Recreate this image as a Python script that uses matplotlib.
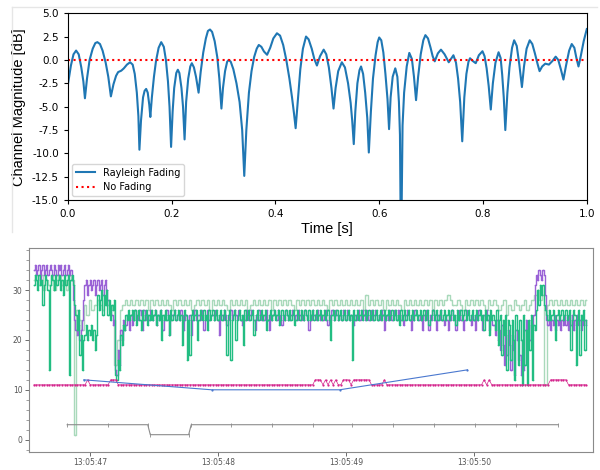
import matplotlib
matplotlib.use('Agg')
import numpy as np
import matplotlib.pyplot as plt
from matplotlib.ticker import MultipleLocator, FormatStrFormatter
from matplotlib.lines import Line2D

# ---- top panel: channel magnitude ----
fade_t = [0.000, 0.006, 0.011, 0.016, 0.021, 0.026, 0.030, 0.033, 0.037, 0.042,
          0.048, 0.053, 0.057, 0.062, 0.067, 0.073, 0.078, 0.083, 0.088, 0.093,
          0.097, 0.103, 0.108, 0.114, 0.120, 0.125, 0.129, 0.133, 0.136, 0.138,
          0.141, 0.145, 0.148, 0.151, 0.154, 0.157, 0.159, 0.162, 0.166, 0.170,
          0.175, 0.180, 0.185, 0.189, 0.193, 0.196, 0.199, 0.202, 0.205, 0.209,
          0.212, 0.215, 0.219, 0.222, 0.225, 0.228, 0.232, 0.236, 0.239, 0.243,
          0.247, 0.252, 0.256, 0.261, 0.266, 0.270, 0.274, 0.278, 0.283, 0.288,
          0.292, 0.296, 0.299, 0.303, 0.307, 0.310, 0.314, 0.319, 0.325, 0.331,
          0.336, 0.340, 0.344, 0.349, 0.354, 0.359, 0.364, 0.368, 0.373, 0.378,
          0.384, 0.390, 0.396, 0.403, 0.409, 0.415, 0.421, 0.427, 0.432, 0.436,
          0.439, 0.443, 0.448, 0.453, 0.459, 0.464, 0.470, 0.475, 0.480, 0.486,
          0.493, 0.498, 0.503, 0.508, 0.512, 0.516, 0.521, 0.528, 0.534, 0.540,
          0.545, 0.548, 0.551, 0.554, 0.558, 0.562, 0.565, 0.569, 0.573, 0.577,
          0.580, 0.584, 0.588, 0.593, 0.597, 0.600, 0.604, 0.608, 0.612, 0.616,
          0.619, 0.622, 0.626, 0.631, 0.635, 0.638, 0.640, 0.642, 0.645, 0.648,
          0.653, 0.658, 0.663, 0.667, 0.671, 0.675, 0.680, 0.685, 0.689, 0.694,
          0.699, 0.703, 0.707, 0.713, 0.719, 0.726, 0.734, 0.743, 0.748, 0.752,
          0.756, 0.760, 0.764, 0.768, 0.772, 0.775, 0.780, 0.786, 0.792, 0.799,
          0.803, 0.807, 0.811, 0.815, 0.819, 0.824, 0.830, 0.834, 0.837, 0.840,
          0.843, 0.847, 0.851, 0.856, 0.860, 0.865, 0.870, 0.875, 0.879, 0.884,
          0.890, 0.895, 0.900, 0.905, 0.909, 0.914, 0.920, 0.927, 0.934, 0.940,
          0.945, 0.950, 0.955, 0.960, 0.966, 0.971, 0.976, 0.980, 0.984, 0.988,
          0.994, 1.000]
fade_db = [-2.7, -0.6, 0.6, 1.0, 0.6, -0.8, -2.3, -4.1, -2.0, 0.0,
           1.2, 1.8, 1.9, 1.7, 1.0, -0.3, -1.8, -3.9, -2.6, -1.7,
           -1.3, -1.15, -0.9, -0.5, -0.25, -0.5, -1.5, -3.5, -6.0, -9.6,
           -6.5, -4.0, -3.3, -3.1, -3.5, -4.8, -6.1, -4.0, -1.8, -0.1,
           1.3, 1.9, 1.4, 0.0, -2.3, -5.0, -9.3, -5.5, -3.0, -1.4,
           -1.05, -1.4, -3.0, -5.0, -8.5, -4.5, -2.0, -0.7, -0.35, -0.8,
           -1.8, -3.5, -1.3, 0.8, 2.3, 3.1, 3.25, 3.0, 2.0, 0.3,
           -2.0, -5.2, -3.0, -1.2, -0.2, 0.0, -0.2, -1.0, -2.5, -4.5,
           -7.5, -12.4, -7.5, -3.5, -1.2, 0.3, 1.2, 1.6, 1.4, 0.9,
           0.55, 1.3, 2.3, 2.85, 2.6, 1.6, 0.0, -2.0, -4.0, -5.8,
           -7.3, -4.5, -1.0, 1.2, 2.5, 2.2, 1.2, 0.1, -0.6, 0.4,
           1.1, 0.6, -0.8, -3.0, -5.2, -3.0, -1.2, -0.25, -0.8, -2.5,
           -4.6, -6.5, -9.0, -5.5, -2.5, -1.1, -0.7, -1.5, -3.5, -6.2,
           -9.9, -5.5, -2.0, 0.5, 1.9, 2.4, 2.1, 0.8, -1.5, -4.2,
           -7.4, -4.0, -1.8, -0.9, -1.8, -4.5, -8.0, -22.0, -7.0, -3.5,
           -0.7, 0.75, 0.1, -1.8, -4.3, -1.8, 0.6, 2.1, 2.65, 2.3,
           1.3, 0.4, -0.15, 0.7, 1.1, 0.6, -0.25, 0.5, -0.3, -2.0,
           -4.5, -8.7, -4.0, -1.5, -0.2, 0.18, -0.1, -0.35, 0.5, 0.93,
           0.4, -0.9, -2.8, -5.3, -2.5, -0.3, 0.82, 0.2, -1.6, -4.0,
           -7.5, -3.5, -0.8, 1.3, 2.1, 1.5, -0.5, -2.9, -0.7, 1.2,
           2.1, 1.7, 0.7, -0.4, -1.2, -0.7, -0.4, -0.5, -0.1, 0.35,
           0.0, -1.0, -2.1, -0.6, 1.0, 1.7, 1.3, 0.2, -0.7, 0.3,
           2.0, 3.3]
nofade_t = [0.0, 1.0]
nofade_db = [0.0, 0.0]

# ---- bottom panel ----
# green / purple: one sample every 0.01 s from 13:05:46.56 (rows of 0.2 s)
fast_start = 46.56
fast_step = 0.01
green = [
    31, 33, 32, 30, 33, 31, 32, 27, 31, 33, 32, 30, 14, 31, 33, 32, 30, 33, 31, 32,
    33, 30, 32, 29, 33, 31, 32, 33, 13, 32, 33, 31, 27, 25, 22, 26, 17, 21, 14, 20,
    21, 23, 20, 22, 21, 23, 20, 22, 18, 21, 29, 26, 28, 30, 25, 29, 27, 30, 25, 28,
    24, 27, 26, 28, 13, 12, 16, 14, 21, 19, 23, 22, 25, 24, 26, 24, 25, 26, 24, 26,
    23, 25, 26, 24, 22, 26, 24, 25, 26, 23, 25, 24, 26, 24, 25, 26, 23, 25, 24, 26,
    20, 25, 24, 26, 24, 25, 21, 26, 24, 25, 26, 24, 25, 26, 24, 25, 19, 24, 26, 25,
    16, 24, 17, 25, 26, 24, 25, 26, 20, 24, 26, 25, 24, 26, 24, 25, 22, 26, 24, 25,
    26, 24, 25, 26, 24, 25, 26, 24, 25, 26, 24, 17, 25, 26, 16, 24, 25, 26, 20, 24,
    25, 26, 24, 25, 19, 26, 24, 25, 26, 24, 25, 26, 21, 24, 25, 26, 24, 25, 26, 24,
    25, 26, 22, 24, 25, 26, 24, 25, 26, 24, 25, 26, 23, 24, 26, 25, 24, 26, 25, 24,
    26, 24, 25, 26, 23, 24, 26, 25, 24, 26, 25, 24, 26, 25, 24, 26, 24, 25, 26, 24,
    25, 26, 24, 25, 26, 24, 25, 26, 24, 25, 26, 24, 20, 25, 26, 24, 25, 26, 24, 25,
    26, 24, 25, 26, 24, 25, 26, 24, 25, 16, 26, 24, 25, 26, 24, 25, 26, 24, 25, 26,
    24, 25, 26, 24, 25, 26, 24, 25, 26, 24, 25, 26, 24, 25, 26, 24, 25, 26, 24, 25,
    26, 24, 25, 26, 24, 25, 23, 26, 24, 25, 26, 24, 25, 26, 24, 25, 26, 24, 25, 26,
    24, 25, 26, 24, 25, 26, 24, 25, 26, 23, 24, 25, 26, 24, 25, 26, 24, 25, 26, 24,
    25, 26, 24, 25, 26, 24, 25, 26, 24, 25, 23, 26, 24, 25, 26, 24, 25, 26, 24, 25,
    26, 24, 25, 26, 24, 25, 26, 24, 25, 26, 24, 25, 22, 26, 24, 25, 21, 26, 24, 25,
    24, 22, 26, 19, 24, 25, 17, 24, 21, 25, 14, 24, 23, 16, 24, 20, 12, 25, 22, 15,
    24, 20, 11, 25, 15, 22, 11, 24, 18, 25, 12, 23, 22, 26, 30, 27, 31, 29, 31, 27,
    26, 25, 24, 26, 24, 25, 26, 24, 20, 25, 26, 24, 25, 26, 24, 25, 26, 24, 25, 26,
    18, 24, 26, 25, 15, 24, 26, 17, 25, 24, 26, 18, 24]
purple = [
    34, 35, 33, 34, 35, 32, 34, 35, 33, 34, 35, 33, 34, 35, 34, 33, 35, 34, 33, 35,
    34, 35, 33, 34, 35, 33, 34, 35, 33, 34, 32, 28, 24, 22, 21, 23, 20, 22, 24, 28,
    31, 32, 29, 31, 32, 30, 31, 32, 29, 31, 32, 30, 31, 32, 29, 31, 32, 30, 28, 27,
    26, 25, 23, 24, 14, 13, 18, 15, 22, 20, 24, 22, 23, 25, 24, 22, 25, 23, 24, 26,
    24, 25, 24, 26, 25, 22, 26, 24, 25, 25, 24, 26, 25, 24, 25, 26, 23, 25, 24, 26,
    24, 22, 25, 24, 26, 25, 21, 24, 25, 25, 26, 24, 25, 25, 24, 26, 25, 22, 24, 25,
    24, 24, 25, 21, 24, 25, 26, 24, 25, 25, 24, 26, 25, 22, 24, 25, 26, 24, 25, 25,
    25, 24, 26, 25, 24, 21, 25, 25, 24, 26, 25, 23, 24, 25, 26, 24, 25, 26, 25, 24,
    26, 25, 24, 23, 25, 24, 26, 25, 24, 25, 26, 25, 24, 22, 25, 24, 26, 25, 24, 25,
    24, 25, 26, 24, 22, 25, 24, 25, 26, 25, 24, 26, 25, 24, 23, 25, 24, 26, 25, 24,
    24, 25, 26, 25, 24, 25, 24, 26, 25, 24, 25, 24, 26, 25, 24, 22, 25, 24, 26, 25,
    25, 24, 26, 25, 24, 25, 24, 25, 26, 24, 23, 25, 24, 26, 25, 24, 26, 25, 24, 25,
    25, 24, 26, 25, 24, 26, 25, 24, 25, 24, 23, 25, 24, 25, 26, 24, 25, 26, 25, 24,
    26, 25, 24, 25, 26, 24, 25, 26, 25, 24, 25, 24, 26, 25, 22, 24, 25, 24, 26, 25,
    24, 25, 26, 25, 24, 26, 25, 24, 25, 23, 24, 25, 26, 25, 24, 22, 25, 24, 26, 25,
    25, 24, 25, 24, 22, 25, 24, 26, 24, 22, 25, 24, 26, 25, 24, 22, 25, 24, 26, 24,
    24, 23, 25, 24, 22, 25, 24, 26, 25, 24, 22, 25, 24, 26, 24, 25, 22, 24, 26, 25,
    25, 24, 23, 25, 24, 22, 25, 24, 26, 25, 24, 22, 25, 24, 26, 24, 22, 25, 24, 23,
    23, 21, 24, 20, 22, 18, 23, 19, 15, 21, 17, 22, 19, 14, 21, 18, 13, 22, 20, 16,
    17, 13, 20, 14, 22, 24, 19, 23, 20, 24, 22, 25, 31, 33, 32, 34, 33, 32, 34, 33,
    29, 24, 23, 25, 22, 24, 23, 25, 22, 24, 23, 25, 22, 24, 23, 25, 23, 24, 22, 25,
    23, 25, 22, 24, 23, 25, 23, 24, 22, 25, 23, 24, 23]

# pale green and magenta: one sample every 0.02 s from 13:05:46.56
slow_start = 46.56
slow_step = 0.02
pale = [32, 33, 31, 33, 30, 32, 31, 33, 30, 32,
        33, 31, 32, 30, 33, 32, 1, 26, 24, 22,
        27, 25, 28, 26, 27, 28, 27, 26, 28, 27,
        26, 27, 15, 20, 26, 27, 28, 27, 28, 27,
        28, 27, 28, 27, 28, 26, 28, 27, 28, 27,
        28, 27, 28, 27, 26, 28, 27, 28, 27, 28,
        27, 28, 26, 27, 28, 27, 28, 27, 28, 26,
        28, 27, 28, 27, 28, 27, 26, 28, 27, 28,
        27, 28, 27, 28, 26, 27, 28, 27, 28, 27,
        28, 27, 28, 26, 28, 27, 28, 27, 28, 27,
        28, 27, 26, 28, 27, 28, 27, 28, 27, 28,
        27, 28, 27, 28, 27, 26, 28, 27, 28, 27,
        28, 27, 28, 27, 28, 27, 28, 27, 28, 26,
        29, 27, 28, 27, 28, 27, 28, 26, 28, 27,
        28, 27, 28, 27, 26, 28, 27, 28, 27, 28,
        27, 28, 27, 28, 27, 28, 26, 28, 27, 28,
        27, 28, 29, 28, 27, 27, 28, 27, 26, 28,
        27, 28, 27, 28, 27, 28, 27, 26, 28, 27,
        28, 27, 26, 27, 28, 25, 27, 26, 28, 27,
        26, 27, 28, 26, 27, 28, 29, 30, 28, 29,
        11, 27, 28, 27, 28, 27, 28, 27, 28, 27,
        28, 27, 28, 27, 28, 27, 28]
magenta = [11, 11, 11, 11, 11, 11, 11, 11, 11, 11,
           11, 11, 11, 11, 11, 11, 11, 11, 11, 11,
           11, 12, 11, 11, 11, 11, 11, 11, 11, 11,
           12, 12, 12, 11, 11, 11, 11, 11, 11, 11,
           11, 11, 11, 11, 11, 11, 11, 11, 11, 11,
           11, 11, 11, 11, 11, 11, 11, 11, 11, 11,
           11, 11, 11, 11, 11, 11, 11, 11, 11, 11,
           11, 11, 11, 11, 11, 11, 11, 11, 11, 11,
           11, 11, 11, 11, 11, 11, 11, 11, 11, 11,
           11, 11, 11, 11, 11, 11, 11, 11, 11, 11,
           11, 11, 11, 11, 11, 11, 11, 11, 11, 11,
           12, 12, 12, 11, 12, 11, 12, 11, 12, 11,
           11, 12, 12, 12, 11, 12, 12, 12, 12, 12,
           12, 12, 11, 11, 11, 11, 11, 12, 11, 11,
           11, 11, 11, 11, 11, 11, 11, 11, 11, 11,
           11, 11, 11, 11, 11, 11, 11, 11, 11, 11,
           11, 11, 11, 11, 11, 11, 11, 11, 11, 11,
           11, 11, 11, 11, 11, 11, 12, 11, 12, 11,
           11, 11, 11, 11, 11, 11, 11, 11, 11, 11,
           11, 11, 11, 11, 11, 11, 11, 11, 11, 11,
           11, 11, 12, 12, 12, 12, 12, 12, 12, 11,
           11, 11, 11, 11, 11, 11, 11]

blue_t = [46.95, 47.95, 48.95, 49.95]
blue_v = [12, 10, 10, 14]

grey_t = [46.82, 47.14, 47.45, 47.47, 47.77, 47.79, 48.10, 48.42,
          48.74, 49.05, 49.37, 49.69, 50.01, 50.33, 50.66]
grey_v = [3, 3, 3, 1, 1, 3, 3, 3, 3, 3, 3, 3, 3, 3, 3]

sec_ticks = [47, 48, 49, 50]
sec_labels = ['13:05:47', '13:05:48', '13:05:49', '13:05:50']


def times(vals, start, step):
    return start + step * np.arange(len(vals))


fig = plt.figure(figsize=(6, 4.7), dpi=100)

# faint screenshot frame around the top figure
fig.add_artist(Line2D([12 / 600, 597 / 600], [1 - 7 / 470, 1 - 7 / 470],
                      color='#e6e6e6', lw=1))
fig.add_artist(Line2D([12 / 600, 12 / 600], [1 - 7 / 470, 1 - 232 / 470],
                      color='#e6e6e6', lw=1))

ax1 = fig.add_axes([0.113, 0.574, 0.865, 0.398])
ax1.plot(fade_t, fade_db, color='#1f77b4', lw=1.5, label='Rayleigh Fading')
ax1.plot(nofade_t, nofade_db, color='red', ls=':', lw=1.5, label='No Fading')
ax1.set_xlim(0, 1)
ax1.set_ylim(-15, 5)
ax1.yaxis.set_major_locator(MultipleLocator(2.5))
ax1.yaxis.set_major_formatter(FormatStrFormatter('%.1f'))
ax1.xaxis.set_major_locator(MultipleLocator(0.2))
ax1.xaxis.set_major_formatter(FormatStrFormatter('%.1f'))
ax1.tick_params(labelsize=7.5, length=3)
ax1.set_xlabel('Time [s]', fontsize=10.5, family='Liberation Sans', labelpad=2)
ax1.set_ylabel('Channel Magnitude [dB]', fontsize=10.5, family='Liberation Sans',
               labelpad=4)
ax1.legend(loc='lower left', fontsize=7, borderaxespad=0.4)

ax2 = fig.add_axes([0.048, 0.038, 0.94, 0.434])
kw = dict(marker='o', ms=1.1, mew=0, drawstyle='steps-mid')
ax2.plot(times(pale, slow_start, slow_step), pale, color='#a9d9bb', lw=1.0,
         zorder=1, **kw)
ax2.plot(times(purple, fast_start, fast_step), purple, color='#9a62d6', lw=1.0,
         zorder=2, **kw)
ax2.plot(times(green, fast_start, fast_step), green, color='#22bd82', lw=1.0,
         zorder=3, **kw)
ax2.plot(times(magenta, slow_start, slow_step), magenta, color='#d4258d', lw=0.5,
         marker='o', ms=1.6, mew=0, zorder=4)
ax2.plot(blue_t, blue_v, color='#4a78cf', lw=0.8, marker='o', ms=1.6, mew=0,
         zorder=5)
ax2.plot(grey_t, grey_v, color='#8c8c8c', lw=0.8, marker='|', ms=2.5, mew=0.6,
         zorder=5)

ax2.set_xlim(46.52, 50.93)
ax2.set_ylim(-2.5, 38.4)
ax2.set_yticks([0, 10, 20, 30])
ax2.yaxis.set_minor_locator(MultipleLocator(2))
ax2.set_xticks(sec_ticks)
ax2.set_xticklabels(sec_labels)
ax2.tick_params(labelsize=5.5, colors='#555555', length=3, width=0.6, pad=1.5)
ax2.tick_params(which='minor', length=2, width=0.5, colors='#777777')
for sp in ax2.spines.values():
    sp.set_color('#8a8a8a')
    sp.set_linewidth(0.8)

fig.savefig('out.png', dpi=100)
